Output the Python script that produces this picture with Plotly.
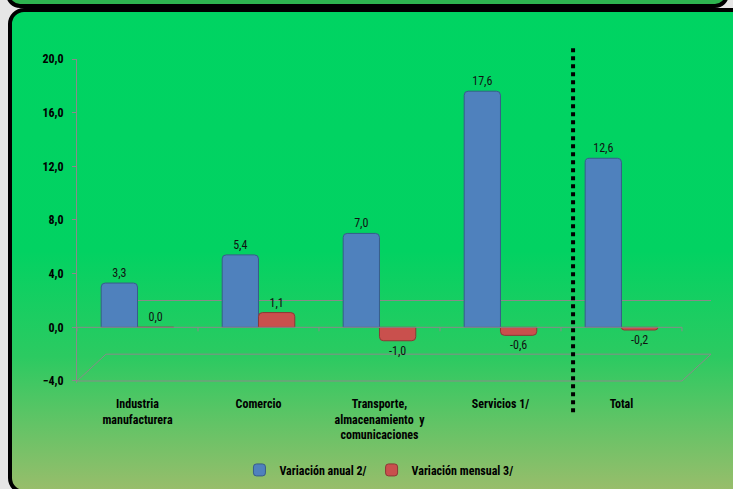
import base64
import plotly.graph_objects as go

categories = ["Industria<br>manufacturera", "Comercio",
              "Transporte,<br>almacenamiento  y<br>comunicaciones",
              "Servicios 1/", "Total"]
anual = [3.3, 5.4, 7.0, 17.6, 12.6]
mensual = [0.0, 1.1, -1.0, -0.6, -0.2]
series_names = ["Variación anual 2/", "Variación mensual 3/"]
y_ticks = [-4, 0, 4, 8, 12, 16, 20]

FONT = "Liberation Sans Narrow, Roboto Condensed, DejaVu Sans Condensed, sans-serif"
GRAY = "#8A8A8A"

W, H = 733, 489
L, R, T, B = 77, 22, 59, 106
pw, ph = W - L - R, H - T - B

svg = f'''<svg xmlns="http://www.w3.org/2000/svg" width="{W}" height="{H}" viewBox="0 0 {W} {H}">
<defs><linearGradient id="g" x1="0" y1="0" x2="0" y2="1">
<stop offset="0" stop-color="#00D462"/><stop offset="0.5" stop-color="#02D262"/>
<stop offset="0.72" stop-color="#2CCA61"/><stop offset="1" stop-color="#9ABD6B"/></linearGradient></defs>
<rect width="{W}" height="{H}" fill="#E6E6E6"/>
<rect x="8" y="-40" width="719" height="46" rx="12" fill="#2EB44F" stroke="#000" stroke-width="4"/>
<rect x="10" y="10" width="760" height="482" rx="14" fill="url(#g)" stroke="#000" stroke-width="4"/>
</svg>'''
bg_uri = "data:image/svg+xml;base64," + base64.b64encode(svg.encode()).decode()

fig = go.Figure()
fig.add_trace(go.Bar(
    x=list(range(len(categories))), y=anual, name=series_names[0],
    marker=dict(color="#4F81BD", line=dict(color="#385D8A", width=1), cornerradius=4),
    texttemplate="%{y:.1f}", textposition="outside",
    textfont=dict(family=FONT, size=12, color="#111"), cliponaxis=False,
))
fig.add_trace(go.Bar(
    x=list(range(len(categories))), y=mensual, name=series_names[1],
    marker=dict(color="#C9504D", line=dict(color="#8C3836", width=1), cornerradius=4),
    texttemplate="%{y:.1f}", textposition="outside",
    textfont=dict(family=FONT, size=12, color="#111"), cliponaxis=False,
))

n = len(categories)
depth_x, depth_y = 0.24, 2.0
shapes = []
# front zero line
shapes.append(dict(type="line", xref="x", yref="y", x0=-0.5, x1=n - 0.5, y0=0, y1=0,
                   line=dict(color=GRAY, width=1)))
# back zero line
shapes.append(dict(type="line", xref="x", yref="y", x0=-0.5 + depth_x, x1=n - 0.5 + depth_x,
                   y0=depth_y, y1=depth_y, line=dict(color=GRAY, width=1), layer="below"))
# category tick marks on front zero line
for i in range(n + 1):
    shapes.append(dict(type="line", xref="x", yref="y", x0=i - 0.5, x1=i - 0.5, y0=0, y1=-0.3,
                       line=dict(color=GRAY, width=1)))
# floor parallelogram at -4
fl = y_ticks[0]
pts = [(-0.5, fl), (n - 0.5, fl), (n - 0.5 + depth_x, fl + depth_y), (-0.5 + depth_x, fl + depth_y)]
for a, b in zip(pts, pts[1:] + pts[:1]):
    shapes.append(dict(type="line", xref="x", yref="y", x0=a[0], y0=a[1], x1=b[0], y1=b[1],
                       line=dict(color=GRAY, width=1), layer="below"))
# dotted separator between Servicios and Total
shapes.append(dict(type="line", xref="x", yref="paper", x0=3.6, x1=3.6, y0=-0.09, y1=1.037,
                   line=dict(color="#000", width=4, dash="dot")))

fig.update_layout(
    width=W, height=H,
    margin=dict(l=L, r=R, t=T, b=B, pad=0, autoexpand=False),
    paper_bgcolor="rgba(0,0,0,0)", plot_bgcolor="rgba(0,0,0,0)",
    separators=",.",
    barmode="group", bargap=0.4, bargroupgap=0.0,
    font=dict(family=FONT, size=12, color="#000"),
    showlegend=True,
    legend=dict(orientation="h", xref="container", yref="container",
                x=0.517, xanchor="center", y=0.039, yanchor="middle",
                font=dict(family=FONT, size=12, color="#000", weight="bold"),
                bgcolor="rgba(0,0,0,0)", itemwidth=30, tracegroupgap=0),
    shapes=shapes,
    images=[dict(source=bg_uri, xref="paper", yref="paper", x=-L / pw, y=1 + T / ph,
                 sizex=W / pw, sizey=H / ph, sizing="stretch", layer="below",
                 xanchor="left", yanchor="top")],
)
fig.update_xaxes(
    range=[-0.5, n - 0.5 + depth_x], tickmode="array", tickvals=list(range(n)),
    ticktext=["<b>" + c + "</b>" for c in categories], ticks="", showline=False,
    showgrid=False, zeroline=False, automargin=False, ticklabelstandoff=12,
    tickfont=dict(family=FONT, size=12, color="#000"),
)
fig.update_yaxes(
    range=[-4.15, 20], tickmode="array", tickvals=y_ticks, tickformat=".1f",
    ticks="outside", ticklen=4, tickcolor=GRAY, showline=True, linecolor=GRAY, linewidth=1,
    showgrid=False, zeroline=False, automargin=False, ticklabelstandoff=6,
    tickfont=dict(family=FONT, size=12, color="#000", weight="bold"),
)
fig.write_html(
    "out.html",
    config={"displayModeBar": False},
    post_script="document.body.style.margin='0';document.body.style.overflow='hidden';",
)
